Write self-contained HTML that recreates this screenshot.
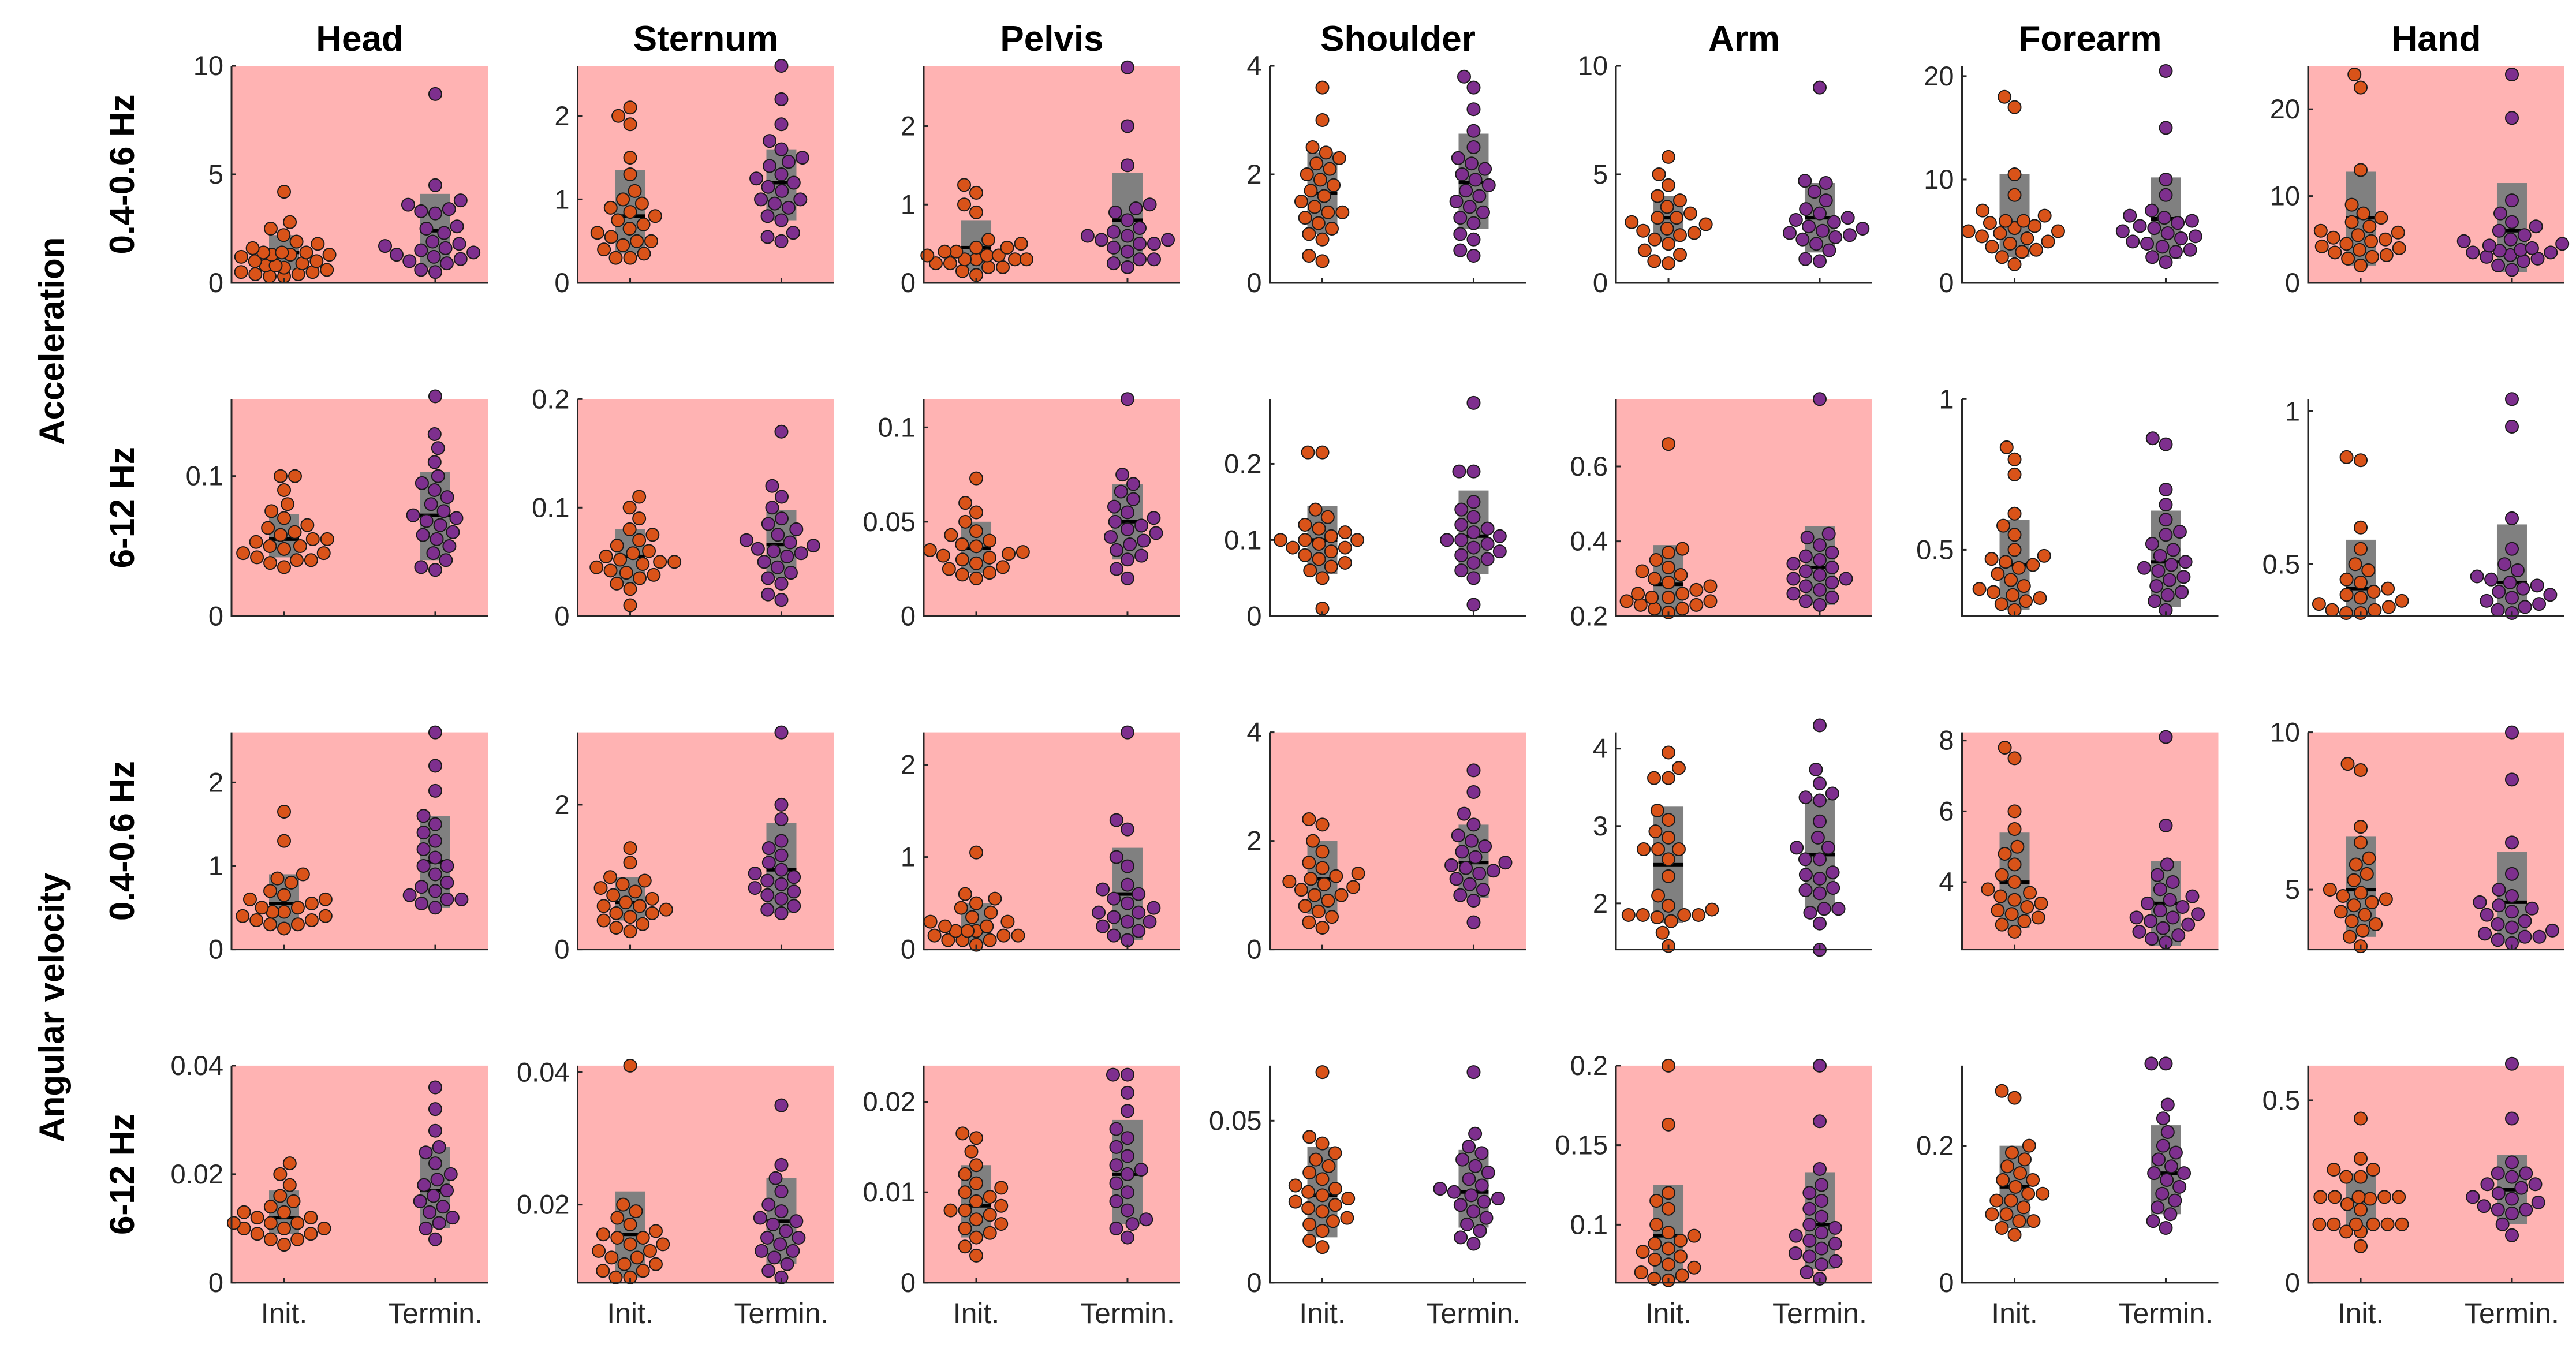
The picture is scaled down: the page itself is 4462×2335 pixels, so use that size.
<!DOCTYPE html>
<html><head><meta charset="utf-8"><style>
html,body{margin:0;padding:0;background:#fff}
svg{display:block}
text{font-family:"Liberation Sans",Arial,sans-serif}
</style></head><body>
<svg id="fig" width="4462" height="2335" viewBox="0 0 4462 2335" xmlns="http://www.w3.org/2000/svg"></svg>
<script>
const columns = ["Head","Sternum","Pelvis","Shoulder","Arm","Forearm","Hand"];
const rowLabels = ["0.4-0.6 Hz","6-12 Hz","0.4-0.6 Hz","6-12 Hz"];
const groupLabels = ["Acceleration","Angular velocity"];
const categories = ["Init.","Termin."];
const pinkPanels = [
 [1,1,1,0,0,0,1],
 [1,1,1,0,1,0,0],
 [1,1,1,1,0,1,1],
 [1,1,1,0,1,0,1]];
const yLims = [
 [[0,10],[0,2.6],[0,2.77],[0,4],[0,10],[0,21],[0,25]],
 [[0,0.155],[0,0.2],[0,0.115],[0,0.285],[0.2,0.78],[0.28,1.0],[0.33,1.04]],
 [[0,2.6],[0,3],[0,2.35],[0,4],[1.405,4.21],[2.1,8.23],[3.1,10]],
 [[0,0.04],[0.0082,0.041],[0,0.024],[0,0.067],[0.0635,0.2],[0,0.317],[0,0.595]]];
const yTicks = [
 [[0,5,10],[0,1,2],[0,1,2],[0,2,4],[0,5,10],[0,10,20],[0,10,20]],
 [[0,0.1],[0,0.1,0.2],[0,0.05,0.1],[0,0.1,0.2],[0.2,0.4,0.6],[0.5,1],[0.5,1]],
 [[0,1,2],[0,2],[0,1,2],[0,2,4],[2,3,4],[4,6,8],[5,10]],
 [[0,0.02,0.04],[0.02,0.04],[0,0.01,0.02],[0,0.05],[0.1,0.15,0.2],[0,0.2],[0,0.5]]];
const initValues = [
 [[4.2,2.8,2.5,2.2,1.9,1.8,1.6,1.4,1.4,1.4,1.3,1.3,1.3,1.2,1.0,1.0,0.9,0.8,0.8,0.7,0.6,0.5,0.5,0.4,0.4,0.3,0.3],
  [2.1,2.0,1.9,1.5,1.3,1.1,1.0,0.95,0.9,0.85,0.8,0.75,0.7,0.65,0.6,0.55,0.5,0.5,0.45,0.4,0.35,0.3,0.3],
  [1.25,1.15,1.0,0.9,0.55,0.5,0.45,0.45,0.4,0.4,0.35,0.35,0.3,0.3,0.3,0.25,0.25,0.2,0.2,0.15,0.1,0.3,0.35],
  [3.6,3.0,2.5,2.4,2.3,2.2,2.1,2.0,1.9,1.8,1.7,1.6,1.5,1.4,1.3,1.3,1.2,1.1,1.0,0.9,0.8,0.5,0.4],
  [5.8,5.0,4.5,4.0,3.8,3.5,3.2,3.0,3.0,2.8,2.7,2.5,2.4,2.3,2.2,2.0,1.8,1.5,1.3,1.0,0.9],
  [18,17,10.5,8.5,7,6.5,6,6,5.8,5.5,5.3,5,5,4.8,4.5,4.3,4,3.8,3.5,3.2,3,2.5,1.8],
  [24,22.5,13,9,8,7.5,7,6.5,6,5.8,5.5,5.2,5,4.8,4.5,4.2,4,3.8,3.5,3.2,3,2.8,2]],
 [[0.1,0.1,0.09,0.08,0.075,0.07,0.065,0.063,0.06,0.058,0.055,0.055,0.053,0.05,0.05,0.048,0.045,0.045,0.042,0.04,0.04,0.038,0.035],
  [0.11,0.1,0.09,0.08,0.075,0.07,0.065,0.06,0.058,0.055,0.052,0.05,0.05,0.048,0.045,0.042,0.04,0.038,0.035,0.03,0.025,0.01],
  [0.073,0.06,0.055,0.05,0.045,0.043,0.04,0.038,0.037,0.035,0.034,0.033,0.032,0.031,0.03,0.028,0.026,0.025,0.023,0.022,0.02],
  [0.215,0.215,0.14,0.13,0.12,0.115,0.11,0.105,0.1,0.1,0.1,0.095,0.09,0.09,0.085,0.08,0.075,0.07,0.065,0.06,0.05,0.01],
  [0.66,0.38,0.37,0.35,0.33,0.32,0.31,0.3,0.29,0.28,0.27,0.26,0.26,0.25,0.25,0.24,0.24,0.23,0.23,0.22,0.22,0.21],
  [0.84,0.8,0.75,0.62,0.58,0.55,0.5,0.48,0.47,0.46,0.45,0.44,0.42,0.4,0.38,0.37,0.36,0.35,0.34,0.33,0.32,0.3],
  [0.85,0.84,0.62,0.55,0.5,0.48,0.45,0.44,0.42,0.41,0.4,0.39,0.38,0.37,0.36,0.35,0.34,0.34,0.35]],
 [[1.65,1.3,0.9,0.85,0.8,0.7,0.65,0.6,0.6,0.55,0.5,0.5,0.45,0.45,0.4,0.4,0.35,0.35,0.3,0.3,0.25],
  [1.4,1.2,1.0,0.95,0.9,0.85,0.8,0.75,0.7,0.65,0.6,0.6,0.55,0.5,0.5,0.45,0.4,0.35,0.3,0.25],
  [1.05,0.6,0.55,0.5,0.45,0.4,0.35,0.3,0.3,0.25,0.25,0.2,0.2,0.2,0.15,0.15,0.15,0.1,0.1,0.1,0.05],
  [2.4,2.3,2.0,1.8,1.6,1.5,1.4,1.35,1.3,1.25,1.2,1.15,1.1,1.0,1.0,0.9,0.8,0.7,0.6,0.5,0.4],
  [3.95,3.75,3.62,3.62,3.2,3.08,2.93,2.85,2.7,2.7,2.7,2.57,2.35,2.1,1.97,1.92,1.85,1.85,1.85,1.85,1.82,1.77,1.62,1.45],
  [7.8,7.5,6.0,5.5,5.0,4.8,4.5,4.2,4.0,3.8,3.7,3.6,3.5,3.4,3.3,3.2,3.1,3.0,2.9,2.8,2.6],
  [9.0,8.8,7.0,6.5,6.0,5.8,5.5,5.3,5.0,4.9,4.8,4.7,4.6,4.5,4.3,4.2,4.0,3.9,3.7,3.5,3.2]],
 [[0.022,0.02,0.018,0.016,0.015,0.014,0.013,0.013,0.012,0.012,0.011,0.011,0.011,0.01,0.01,0.01,0.009,0.009,0.008,0.008,0.007],
  [0.041,0.02,0.019,0.018,0.017,0.016,0.0155,0.015,0.015,0.014,0.014,0.013,0.013,0.012,0.012,0.011,0.011,0.01,0.01,0.009,0.009],
  [0.0165,0.016,0.0145,0.013,0.012,0.011,0.0105,0.01,0.0095,0.009,0.0085,0.008,0.008,0.0075,0.007,0.0065,0.006,0.0055,0.005,0.004,0.003],
  [0.065,0.045,0.043,0.04,0.038,0.036,0.034,0.032,0.03,0.029,0.028,0.027,0.026,0.025,0.024,0.023,0.022,0.02,0.019,0.018,0.016,0.013,0.011],
  [0.2,0.163,0.12,0.115,0.11,0.1,0.095,0.093,0.09,0.088,0.085,0.083,0.08,0.078,0.075,0.073,0.07,0.068,0.066,0.065],
  [0.28,0.27,0.2,0.19,0.18,0.17,0.16,0.15,0.15,0.14,0.13,0.13,0.12,0.12,0.11,0.1,0.1,0.09,0.09,0.08,0.07],
  [0.45,0.34,0.31,0.31,0.29,0.29,0.235,0.235,0.235,0.235,0.235,0.23,0.215,0.2,0.16,0.16,0.16,0.16,0.16,0.16,0.14,0.14,0.1]]];
const terminValues = [
 [[8.7,4.5,3.8,3.6,3.4,3.3,3.2,2.6,2.5,2.3,1.9,1.8,1.7,1.6,1.5,1.4,1.3,1.2,1.1,1.0,0.9,0.5,0.6],
  [2.6,2.2,1.9,1.7,1.6,1.5,1.45,1.4,1.3,1.25,1.2,1.15,1.1,1.0,1.0,0.95,0.9,0.8,0.75,0.6,0.55,0.5],
  [2.75,2.0,1.5,1.0,0.95,0.9,0.8,0.7,0.65,0.6,0.6,0.55,0.5,0.5,0.45,0.4,0.3,0.25,0.2,0.3,0.55],
  [3.8,3.6,3.2,2.8,2.5,2.3,2.2,2.1,2.0,1.9,1.8,1.7,1.6,1.5,1.4,1.3,1.2,1.1,0.9,0.8,0.6,0.5],
  [9.0,4.7,4.6,4.2,3.8,3.4,3.2,3.0,2.9,2.8,2.6,2.5,2.4,2.3,2.2,2.1,2.0,1.8,1.5,1.0,1.1],
  [20.5,15,10,8.5,7,6.5,6.3,6,5.8,5.5,5.3,5,4.8,4.5,4.3,4,3.8,3.5,3.2,3,2.5,2],
  [24,19,9.5,8,7,6.5,6,5.5,5,4.8,4.5,4.3,4,3.8,3.7,3.5,3.5,3.2,3,2.8,2.5,2,1.5]],
 [[0.157,0.13,0.12,0.11,0.1,0.095,0.09,0.085,0.08,0.075,0.072,0.07,0.068,0.065,0.06,0.058,0.055,0.05,0.045,0.04,0.035,0.033],
  [0.17,0.12,0.11,0.1,0.09,0.085,0.08,0.075,0.07,0.068,0.065,0.062,0.06,0.058,0.055,0.05,0.045,0.04,0.035,0.03,0.02,0.015],
  [0.115,0.075,0.07,0.066,0.062,0.058,0.055,0.052,0.05,0.048,0.046,0.044,0.042,0.04,0.038,0.035,0.032,0.03,0.025,0.02],
  [0.28,0.19,0.19,0.15,0.14,0.13,0.12,0.115,0.11,0.105,0.1,0.1,0.095,0.09,0.085,0.08,0.075,0.07,0.06,0.05,0.015],
  [0.78,0.42,0.41,0.39,0.37,0.36,0.35,0.34,0.33,0.32,0.31,0.3,0.3,0.29,0.28,0.27,0.26,0.25,0.24,0.23],
  [0.87,0.85,0.7,0.65,0.6,0.56,0.55,0.52,0.5,0.48,0.46,0.45,0.44,0.43,0.41,0.4,0.38,0.36,0.35,0.33,0.3],
  [1.04,0.95,0.65,0.55,0.5,0.48,0.46,0.45,0.44,0.43,0.42,0.41,0.4,0.39,0.38,0.37,0.36,0.35,0.34]],
 [[2.6,2.2,1.9,1.6,1.5,1.4,1.3,1.2,1.1,1.0,1.0,0.9,0.8,0.75,0.7,0.65,0.6,0.6,0.55,0.5],
  [3.0,2.0,1.8,1.5,1.4,1.3,1.2,1.1,1.05,1.0,0.95,0.9,0.85,0.8,0.75,0.7,0.6,0.55,0.5],
  [2.35,1.4,1.3,1.0,0.9,0.7,0.65,0.6,0.55,0.5,0.45,0.4,0.4,0.35,0.3,0.3,0.25,0.2,0.15,0.1],
  [3.3,2.9,2.5,2.3,2.1,2.0,1.9,1.8,1.7,1.6,1.55,1.5,1.45,1.4,1.3,1.2,1.1,1.0,0.9,0.5],
  [4.3,3.73,3.55,3.42,3.37,3.33,3.06,2.85,2.72,2.72,2.57,2.57,2.4,2.37,2.32,2.2,2.17,2.13,1.93,1.93,1.88,1.74,1.4],
  [8.1,5.6,4.5,4.2,4.0,3.8,3.6,3.5,3.4,3.3,3.2,3.1,3.0,3.0,2.9,2.8,2.7,2.6,2.5,2.4,2.3],
  [10,8.5,6.5,5.5,5.0,4.8,4.6,4.5,4.4,4.3,4.2,4.0,3.9,3.8,3.7,3.6,3.5,3.5,3.4,3.3]],
 [[0.036,0.032,0.028,0.025,0.024,0.022,0.02,0.019,0.018,0.017,0.016,0.015,0.014,0.013,0.012,0.011,0.01,0.008],
  [0.035,0.026,0.024,0.022,0.02,0.019,0.018,0.0175,0.017,0.016,0.015,0.015,0.014,0.013,0.013,0.012,0.011,0.01,0.009],
  [0.023,0.023,0.021,0.019,0.017,0.016,0.015,0.014,0.013,0.0125,0.012,0.011,0.01,0.009,0.008,0.007,0.0065,0.006,0.005],
  [0.065,0.046,0.042,0.04,0.038,0.036,0.034,0.032,0.03,0.029,0.028,0.027,0.026,0.025,0.024,0.022,0.02,0.018,0.016,0.014,0.012],
  [0.2,0.165,0.135,0.125,0.12,0.115,0.11,0.105,0.1,0.098,0.095,0.093,0.09,0.088,0.085,0.082,0.08,0.077,0.075,0.07,0.066],
  [0.32,0.32,0.26,0.24,0.22,0.2,0.19,0.18,0.17,0.16,0.16,0.15,0.14,0.13,0.12,0.11,0.1,0.09,0.08],
  [0.6,0.45,0.33,0.3,0.3,0.29,0.27,0.27,0.26,0.245,0.235,0.23,0.22,0.21,0.2,0.2,0.19,0.16,0.13]]];
const initBox = [
 [[0.6,1.4,2.2],[0.35,0.8,1.35],[0.15,0.45,0.8],[0.9,1.65,2.4],[1.9,3.0,4.0],[2.5,5.8,10.5],[2,7.5,12.8]],
 [[0.042,0.055,0.073],[0.03,0.055,0.08],[0.023,0.036,0.05],[0.055,0.1,0.145],[0.2,0.285,0.39],[0.3,0.45,0.6],[0.33,0.42,0.58]],
 [[0.25,0.55,0.9],[0.4,0.65,1.0],[0.05,0.2,0.5],[0.65,1.3,2.0],[1.75,2.5,3.25],[2.7,4.0,5.4],[3.5,5.0,6.7]],
 [[0.009,0.012,0.017],[0.009,0.0155,0.022],[0.005,0.0085,0.013],[0.014,0.027,0.042],[0.065,0.093,0.125],[0.08,0.14,0.2],[0.144,0.226,0.3]]];
const terminBox = [
 [[0.7,2.4,4.1],[0.75,1.2,1.6],[0.25,0.8,1.4],[1.0,1.85,2.75],[1.4,3.0,4.6],[2.3,6.2,10.2],[1.2,6,11.5]],
 [[0.04,0.072,0.103],[0.035,0.066,0.098],[0.03,0.05,0.07],[0.055,0.105,0.165],[0.23,0.33,0.44],[0.31,0.46,0.63],[0.34,0.44,0.63]],
 [[0.5,1.05,1.6],[0.5,1.1,1.75],[0.1,0.6,1.1],[0.95,1.6,2.3],[1.9,2.63,3.35],[2.2,3.4,4.6],[3.3,4.6,6.2]],
 [[0.01,0.017,0.025],[0.011,0.0175,0.024],[0.0065,0.012,0.018],[0.017,0.028,0.041],[0.072,0.1,0.133],[0.1,0.16,0.23],[0.16,0.255,0.35]]];

const NS = "http://www.w3.org/2000/svg";
const svg = document.getElementById("fig");
const L0 = 401, CSTEP = 599.5, PW = 444, T0 = 114, RSTEP = 577.3, PH = 376;
const R = 11, MAXOFF = 88;
function mk(tag, attrs, parent){ const e=document.createElementNS(NS,tag); for(const k in attrs) e.setAttribute(k,attrs[k]); (parent||svg).appendChild(e); return e; }
function fmt(v){ return String(+v.toPrecision(6)); }

function swarmTry(placed, py, dmin){
  const ivs = [];
  placed.forEach(p=>{
    const dy = Math.abs(p.y-py);
    if(dy < dmin){ const w = Math.sqrt(dmin*dmin-dy*dy); ivs.push([p.x-w,p.x+w]); }
  });
  const cands = [0];
  ivs.forEach(iv=>{ cands.push(iv[0], iv[1]); });
  cands.sort((a,b)=>Math.abs(a)-Math.abs(b));
  for(const c of cands){
    if(!ivs.some(iv=>c>iv[0]+1e-6 && c<iv[1]-1e-6)) return c;
  }
  return 0;
}
function swarmOffset(placed, py){
  for(const d of [25,20,15,10,5]){
    const o = swarmTry(placed, py, d);
    if(Math.abs(o) <= MAXOFF) return o;
  }
  return 0;
}

columns.forEach((name,c)=>{
  const t = mk("text",{x:L0+c*CSTEP+PW/2,y:88,"text-anchor":"middle","font-size":62,"font-weight":"bold",fill:"#000"});
  t.textContent = name;
  
  
});
rowLabels.forEach((lab,r)=>{
  const cy = T0 + r*RSTEP + PH/2;
  const t = mk("text",{x:0,y:0,transform:`translate(232,${cy}) rotate(-90)`,"text-anchor":"middle","font-size":60,"font-weight":"bold",fill:"#000"});
  t.textContent = lab;
  
  
});
groupLabels.forEach((lab,g)=>{
  const cy = T0 + (2*g)*RSTEP + (RSTEP+PH)/2;
  const t = mk("text",{x:0,y:0,transform:`translate(110,${cy}) rotate(-90)`,"text-anchor":"middle","font-size":60,"font-weight":"bold",fill:"#000"});
  t.textContent = lab;
  
  
});

for(let r=0;r<4;r++){
  for(let c=0;c<7;c++){
    const left = L0 + c*CSTEP, top = T0 + r*RSTEP, bottom = top+PH;
    const [y0,y1] = yLims[r][c];
    const yS = v => bottom - (v-y0)/(y1-y0)*PH;
    const xS = k => left + (k===0 ? 0.205 : 0.795)*PW;
    const g = mk("g",{});
    
    
    if(pinkPanels[r][c]){
      const bg = mk("rect",{x:left,y:top,width:PW,height:PH,fill:"#ffb3b3"},g);
      
      
    }
    [initBox, terminBox].forEach((bx,k)=>{
      const [lo,mid,hi] = bx[r][c];
      const cx = xS(k);
      const b = mk("rect",{x:cx-26,y:yS(hi),width:52,height:yS(lo)-yS(hi),fill:"#808080"},g);
      
      
      const m = mk("rect",{x:cx-26,y:yS(mid)-3,width:52,height:6,fill:"#000"},g);
      
      
    });
    [initValues, terminValues].forEach((vals,k)=>{
      const cx = xS(k);
      const placed = [];
      const sorted = vals[r][c].slice().sort((a,b)=>a-b);
      sorted.forEach(v=>{
        const py = yS(v);
        const off = swarmOffset(placed, py);
        placed.push({x:off,y:py});
        const d = mk("circle",{cx:cx+off,cy:py,r:R,fill:k?"#7e2f8e":"#d95319",stroke:"#1a1a1a","stroke-width":2},g);
        
        
      });
    });
    const ax = mk("path",{d:`M${left},${top} L${left},${bottom} L${left+PW},${bottom}`,fill:"none",stroke:"#262626","stroke-width":3},g);
    
    
    yTicks[r][c].forEach(tv=>{
      const ty = yS(tv);
      mk("line",{x1:left,y1:ty,x2:left+8,y2:ty,stroke:"#262626","stroke-width":3},g);
      const tl = mk("text",{x:left-14,y:ty+16,"text-anchor":"end","font-size":47,fill:"#262626"},g);
      tl.textContent = fmt(tv);
      
      
    });
    categories.forEach((cat,k)=>{
      mk("line",{x1:xS(k),y1:bottom,x2:xS(k),y2:bottom-8,stroke:"#262626","stroke-width":3},g);
      if(r===3){
        const xl = mk("text",{x:xS(k),y:bottom+70,"text-anchor":"middle","font-size":50,fill:"#262626"},g);
        xl.textContent = cat;
        
        
      }
    });
  }
}
</script>
</body></html>
